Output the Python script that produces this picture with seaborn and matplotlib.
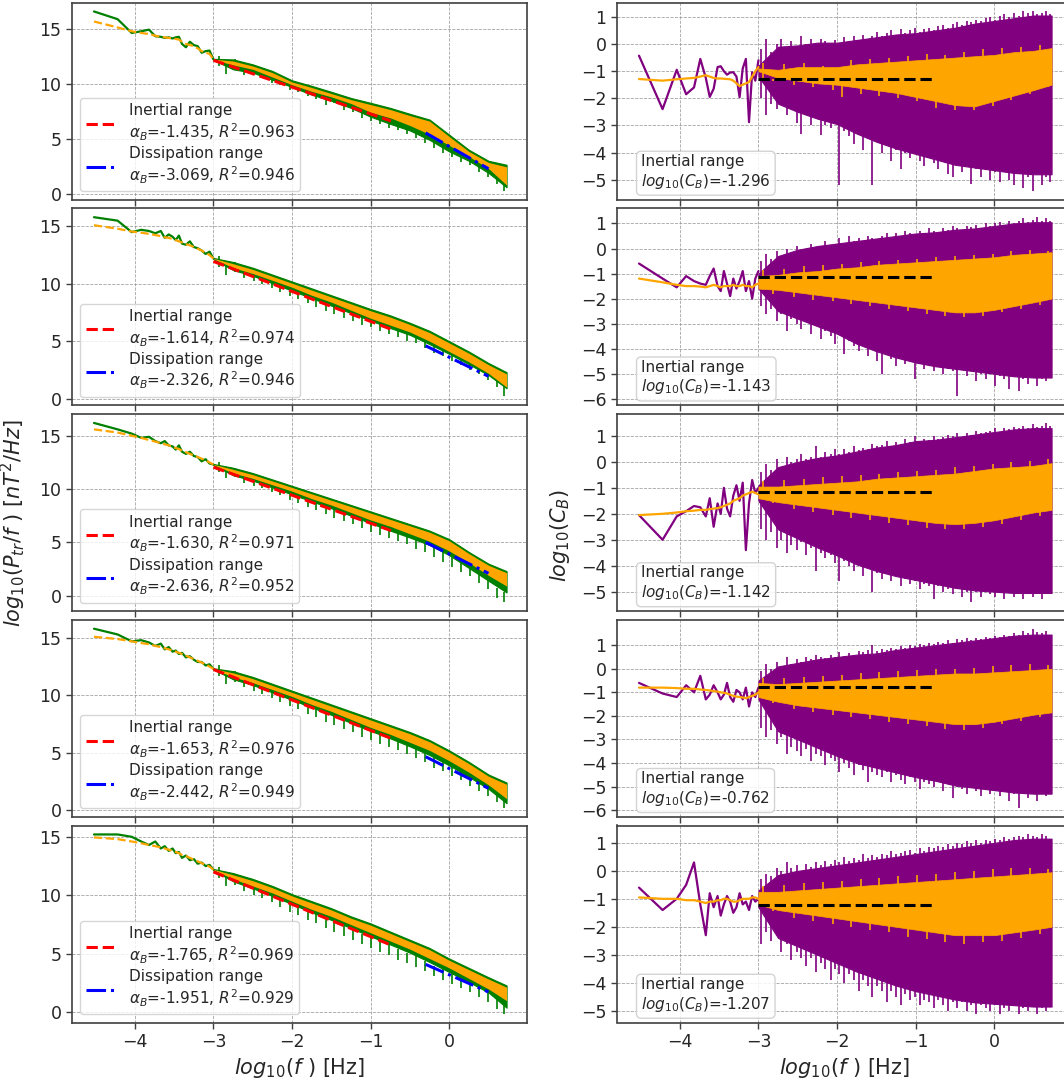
import numpy as np
import pandas as pd
import matplotlib
matplotlib.use("Agg")
import matplotlib.pyplot as plt
import seaborn as sns
from matplotlib.lines import Line2D

# ---------------------------------------------------------------- data
# log10(f) of the lowest discrete frequencies (left / right columns)
psd_lowf_x = [-4.52, -4.22, -4.04, -3.92, -3.82, -3.74, -3.67, -3.62, -3.57, -3.52, -3.48,
              -3.44, -3.40, -3.35, -3.30, -3.25, -3.20, -3.15, -3.10, -3.05, -3.00]
cb_lowf_x = [-4.52, -4.22, -4.04, -3.92, -3.82, -3.74, -3.67, -3.62, -3.57, -3.52, -3.48, -3.44,
             -3.40, -3.36, -3.32, -3.28, -3.24, -3.20, -3.16, -3.12, -3.08, -3.04, -3.00]
# log10(f) grid of the dense high-frequency envelopes
band_x = [-3.0, -2.75, -2.5, -2.25, -2.0, -1.75, -1.5, -1.25, -1.0, -0.75, -0.5, -0.25, 0.0, 0.25, 0.5, 0.73]
# log10(f) of the individual excursions of the dense spectra
dip_x = [-2.93, -2.84, -2.72, -2.61, -2.49, -2.38, -2.26, -2.15, -2.03, -1.92, -1.8, -1.69, -1.57,
         -1.46, -1.34, -1.23, -1.11, -1.0, -0.88, -0.77, -0.65, -0.54, -0.42, -0.31, -0.19, -0.08,
         0.04, 0.15, 0.27, 0.38, 0.5, 0.61, 0.7]
spike_x = [-2.97, -2.91, -2.84, -2.77, -2.71, -2.64, -2.58, -2.51, -2.46, -2.39, -2.33, -2.27,
           -2.2, -2.15, -2.08, -2.02, -1.97, -1.91, -1.85, -1.79, -1.72, -1.67, -1.6, -1.55,
           -1.49, -1.43, -1.37, -1.31, -1.25, -1.19, -1.13, -1.07, -1.01, -0.95, -0.89, -0.83,
           -0.77, -0.71, -0.65, -0.59, -0.53, -0.47, -0.41, -0.35, -0.29, -0.23, -0.17, -0.11,
           -0.05, 0.01, 0.07, 0.13, 0.19, 0.25, 0.31, 0.37, 0.43, 0.49, 0.55, 0.61, 0.66, 0.71]
orange_sp_x = [-2.94, -2.81, -2.68, -2.55, -2.42, -2.3, -2.18, -2.05, -1.94, -1.82, -1.7, -1.58,
               -1.46, -1.34, -1.22, -1.1, -0.98, -0.86, -0.74, -0.62, -0.5, -0.38, -0.26, -0.14,
               -0.02, 0.1, 0.22, 0.34, 0.46, 0.58, 0.69]

# fit ranges (log10 f)
inertial_range = [-3.0, -0.74]
dissipation_range = [-0.30, 0.50]

# spectral indices, goodness of fit and compensated levels per interval
alpha_in = [-1.435, -1.614, -1.630, -1.653, -1.765]
r2_in = [0.963, 0.974, 0.971, 0.976, 0.969]
alpha_diss = [-3.069, -2.326, -2.636, -2.442, -1.951]
r2_diss = [0.946, 0.946, 0.952, 0.949, 0.929]
log_cb = [-1.296, -1.143, -1.142, -0.762, -1.207]
# fit line values at the start of each range
fit_in_y0 = [12.12, 11.95, 12.05, 12.25, 12.0]
fit_diss_y0 = [5.53, 4.60, 5.00, 4.65, 4.10]

# ---- interval 1
psd1_low = [16.55, 15.85, 14.6, 14.75, 14.9, 14.3, 14.25, 14.15, 14.2, 14.1, 14.2,
            14.25, 13.6, 13.3, 13.8, 13.5, 13.4, 12.8, 12.95, 13.0, 12.2]
psd1_smooth = [15.64, 15.1, 14.75, 14.6, 14.5, 14.35, 14.25, 14.2, 14.15, 14.1, 14.05,
               14.0, 13.8, 13.6, 13.5, 13.4, 13.2, 12.95, 12.8, 12.7, 12.2]
psd1_top = [12.25, 12.2, 11.75, 11.15, 10.3, 9.8, 9.26, 8.7, 8.26, 7.8, 7.26, 6.74, 5.37, 4.0, 3.0, 2.64]
psd1_bot = [12.15, 11.3, 11.0, 10.35, 9.7, 9.0, 8.45, 7.8, 7.0, 6.35, 5.75, 4.9, 3.85, 3.0, 1.9, 0.6]
avg1_top = [12.22, 12.05, 11.6, 11.0, 10.15, 9.65, 9.1, 8.55, 8.1, 7.65, 7.1, 6.6, 5.2, 3.85, 2.85, 2.45]
avg1_bot = [12.18, 11.7, 11.3, 10.6, 9.9, 9.3, 8.8, 8.2, 7.4, 6.9, 6.2, 5.4, 4.4, 3.4, 2.3, 0.8]
psd1_dip = [11.6, 10.9, 11.3, 10.8, 10.8, 10.5, 10.1, 9.9, 9.4, 9.2, 8.9, 8.6, 8.1, 8.2, 7.6, 7.4,
            6.9, 6.6, 6.3, 6.0, 5.8, 5.4, 5.1, 4.6, 4.2, 3.7, 3.3, 2.9, 2.6, 2.0, 1.5, 0.9, 0.3]

cb1_low = [-0.43, -2.40, -0.95, -1.85, -1.60, -0.55, -1.25, -1.95, -1.65, -0.85, -0.82, -1.0,
           -1.13, -1.05, -1.04, -1.2, -1.96, -0.9, -0.55, -2.88, -1.04, -1.35, -0.6]
cbs1_low = [-1.29, -1.35, -1.3, -1.27, -1.25, -1.2, -1.15, -1.2, -1.25, -1.27, -1.27, -1.28,
            -1.29, -1.3, -1.35, -1.45, -1.55, -1.5, -1.45, -1.4, -1.2, -1.0, -0.85]
cb1_top = [-0.8, -0.1, -0.05, 0.05, 0.05, 0.15, 0.25, 0.35, 0.4, 0.5, 0.6, 0.75, 0.85, 0.95, 1.05, 1.05]
cb1_bot = [-1.2, -2.2, -2.5, -2.75, -2.95, -3.3, -3.6, -3.85, -4.05, -4.25, -4.45, -4.55, -4.65, -4.75, -4.8, -4.8]
cbs1_top = [-0.9, -0.95, -0.85, -0.85, -0.85, -0.75, -0.7, -0.65, -0.6, -0.55, -0.5, -0.45, -0.4, -0.3, -0.25, -0.15]
cbs1_bot = [-1.0, -1.25, -1.35, -1.45, -1.5, -1.6, -1.7, -1.8, -1.95, -2.1, -2.25, -2.3, -2.1, -1.9, -1.7, -1.5]
cb1_up = [-0.2, 0.2, -0.3, 0.0, 0.2, -0.2, 0.1, -0.1, 0.3, 0.0, 0.2, -0.05, 0.2, 0.1, 0.0, 0.15,
          0.05, 0.25, 0.1, 0.3, 0.15, 0.35, 0.2, 0.3, 0.45, 0.3, 0.4, 0.5, 0.35, 0.55, 0.4, 0.5,
          0.6, 0.45, 0.55, 0.6, 0.5, 0.65, 0.7, 0.6, 0.75, 0.8, 0.7, 0.85, 0.8, 0.9, 0.85, 0.95,
          1.0, 0.9, 1.05, 1.1, 1.0, 1.15, 1.05, 1.2, 1.15, 1.2, 1.1, 1.15, 1.2, 1.1]
cb1_dn = [-2.0, -2.6, -2.2, -2.4, -2.1, -2.6, -2.4, -2.9, -3.3, -2.6, -3.0, -2.7, -3.35, -3.0,
          -3.1, -2.9, -5.2, -3.2, -3.4, -3.7, -3.3, -3.9, -3.5, -5.2, -3.6, -4.0, -3.7, -4.3,
          -3.9, -4.6, -4.0, -4.2, -4.0, -4.3, -4.5, -4.2, -4.4, -4.6, -4.3, -4.8, -4.9, -4.4,
          -4.7, -4.5, -5.15, -4.6, -4.9, -4.6, -5.0, -4.7, -5.1, -4.7, -5.0, -5.2, -4.8, -5.3,
          -4.9, -5.4, -4.8, -5.2, -4.9, -5.1]
cbs1_sp = [-0.7, -1.35, -0.75, -1.5, -0.7, -1.6, -0.8, -1.7, -1.95, -0.6, -1.85, -0.55, -1.9,
           -0.5, -2.0, -0.45, -2.1, -0.35, -2.35, -0.4, -2.45, -0.3, -2.45, -0.2, -2.3, -0.15,
           -2.05, -0.1, -1.85, -0.05, -1.6]

# ---- interval 2
psd2_low = [15.8, 15.5, 14.5, 14.7, 14.6, 14.4, 14.6, 14.0, 14.3, 14.1, 13.8,
            14.2, 13.5, 13.4, 13.7, 13.2, 13.1, 12.9, 12.6, 12.8, 12.2]
psd2_smooth = [15.1, 14.8, 14.55, 14.45, 14.35, 14.25, 14.15, 14.05, 14.0, 13.9, 13.8,
               13.7, 13.6, 13.45, 13.35, 13.2, 13.05, 12.9, 12.7, 12.5, 12.2]
psd2_top = [12.25, 11.9, 11.4, 10.8, 10.2, 9.6, 9.0, 8.4, 7.8, 7.25, 6.6, 5.9, 5.0, 4.1, 3.1, 2.3]
psd2_bot = [12.15, 11.2, 10.7, 10.05, 9.4, 8.75, 8.1, 7.45, 6.8, 6.15, 5.55, 4.75, 3.9, 3.0, 2.05, 0.9]
avg2_top = [12.22, 11.75, 11.25, 10.65, 10.05, 9.45, 8.85, 8.25, 7.65, 7.1, 6.45, 5.75, 4.85, 3.95, 2.95, 2.15]
avg2_bot = [12.18, 11.4, 10.9, 10.3, 9.7, 9.0, 8.4, 7.7, 7.0, 6.4, 5.8, 5.0, 4.1, 3.2, 2.2, 1.0]
psd2_dip = [11.5, 10.8, 11.0, 10.5, 10.2, 10.0, 9.6, 9.3, 8.9, 8.7, 8.3, 8.0, 7.6, 7.4, 7.0, 6.8,
            6.4, 6.2, 5.9, 5.6, 5.4, 5.0, 4.8, 4.4, 4.0, 3.7, 3.3, 2.9, 2.5, 2.1, 1.6, 1.0, 0.2]

cb2_low = [-0.6, -1.2, -1.55, -1.1, -1.3, -1.4, -1.45, -1.1, -0.8, -1.5, -1.7, -0.9,
           -1.4, -1.9, -1.2, -1.6, -1.3, -0.9, -1.7, -1.3, -2.0, -1.2, -0.9]
cbs2_low = [-1.2, -1.35, -1.45, -1.5, -1.5, -1.52, -1.55, -1.5, -1.45, -1.5, -1.55, -1.5,
            -1.5, -1.5, -1.45, -1.5, -1.5, -1.45, -1.5, -1.5, -1.55, -1.45, -1.4]
cb2_top = [-1.0, -0.3, -0.05, 0.1, 0.2, 0.3, 0.4, 0.5, 0.6, 0.65, 0.75, 0.8, 0.9, 1.0, 1.05, 1.05]
cb2_bot = [-1.6, -2.5, -2.8, -3.1, -3.4, -3.8, -4.1, -4.35, -4.55, -4.7, -4.8, -4.9, -5.0, -5.1, -5.15, -5.15]
cbs2_top = [-1.1, -1.05, -0.95, -0.9, -0.8, -0.75, -0.65, -0.6, -0.55, -0.5, -0.45, -0.4, -0.35, -0.25, -0.2, -0.15]
cbs2_bot = [-1.6, -1.65, -1.75, -1.85, -1.95, -2.05, -2.15, -2.25, -2.35, -2.45, -2.55, -2.55, -2.45, -2.3, -2.15, -2.0]
cb2_up = [-0.5, -0.2, -0.4, -0.1, -0.3, 0.0, -0.2, 0.1, -0.1, 0.0, 0.2, 0.0, 0.1, 0.3, 0.1, 0.2,
          0.4, 0.2, 0.5, 0.3, 0.4, 0.3, 0.5, 0.4, 0.3, 0.5, 0.6, 0.4, 0.6, 0.5, 0.7, 0.6,
          0.5, 0.7, 0.6, 0.8, 0.7, 0.6, 0.8, 0.75, 0.9, 0.8, 0.7, 0.9, 0.85, 0.95, 0.8, 1.0,
          0.9, 1.0, 1.05, 0.95, 1.1, 1.0, 1.1, 1.2, 1.05, 1.15, 1.25, 1.1, 1.2, 1.1]
cb2_dn = [-2.3, -2.6, -2.4, -2.9, -2.6, -3.3, -2.8, -3.0, -3.2, -2.9, -3.4, -3.1, -3.6, -3.3,
          -3.5, -3.8, -3.4, -4.2, -3.7, -3.9, -4.1, -3.8, -4.3, -4.0, -4.5, -5.0, -4.2, -4.4,
          -4.7, -4.3, -4.6, -4.5, -5.2, -4.6, -4.8, -4.5, -4.9, -4.7, -5.0, -4.8, -4.9, -5.9,
          -4.8, -5.1, -4.9, -5.3, -5.0, -5.2, -5.0, -5.5, -5.1, -5.2, -5.6, -5.0, -5.7, -5.2,
          -5.4, -5.0, -5.5, -5.2, -5.3, -5.1]
cbs2_sp = [-0.85, -1.8, -0.8, -1.95, -0.7, -2.05, -0.65, -2.1, -0.6, -2.2, -0.55, -2.3, -0.5,
           -2.4, -0.45, -2.5, -0.4, -2.6, -0.35, -2.7, -0.3, -2.75, -0.25, -2.7, -0.2, -2.55,
           -0.1, -2.4, -0.05, -2.25, -0.1]

# ---- interval 3
psd3_low = [16.2, 15.6, 15.2, 14.8, 14.9, 14.5, 14.3, 14.5, 14.1, 14.0, 13.7,
            14.1, 13.5, 13.3, 13.5, 13.1, 13.0, 12.6, 12.8, 12.4, 12.3]
psd3_smooth = [15.6, 15.3, 15.0, 14.8, 14.6, 14.45, 14.3, 14.2, 14.1, 13.95, 13.85,
               13.75, 13.6, 13.45, 13.3, 13.15, 13.0, 12.85, 12.7, 12.5, 12.3]
psd3_top = [12.35, 12.0, 11.5, 10.9, 10.3, 9.7, 9.1, 8.5, 7.9, 7.3, 6.7, 6.1, 5.3, 4.1, 3.0, 2.3]
psd3_bot = [12.25, 11.3, 10.8, 10.15, 9.5, 8.85, 8.2, 7.5, 6.8, 6.1, 5.45, 4.75, 3.8, 2.6, 1.4, 0.3]
avg3_top = [12.32, 11.85, 11.35, 10.75, 10.15, 9.55, 8.95, 8.35, 7.75, 7.15, 6.55, 5.95, 5.15, 3.95, 2.85, 2.15]
avg3_bot = [12.28, 11.5, 11.0, 10.4, 9.8, 9.1, 8.5, 7.8, 7.1, 6.5, 5.8, 5.1, 4.2, 3.1, 1.9, 0.9]
psd3_dip = [11.6, 11.0, 11.1, 10.6, 10.3, 10.1, 9.7, 9.4, 9.0, 8.7, 8.3, 8.0, 7.7, 7.3, 7.0, 6.7,
            6.3, 6.0, 5.7, 5.4, 5.1, 4.8, 4.4, 4.1, 3.6, 3.2, 2.7, 2.2, 1.8, 1.2, 0.6, -0.2, -0.6]

cb3_low = [-2.05, -3.0, -2.1, -1.9, -1.7, -1.75, -2.1, -1.4, -2.5, -1.6, -2.0, -1.0,
           -1.8, -2.1, -1.3, -0.9, -1.5, -0.8, -3.4, -1.6, -0.7, -1.2, -1.0]
cbs3_low = [-2.05, -2.0, -1.95, -1.9, -1.88, -1.85, -1.85, -1.82, -1.8, -1.78, -1.75, -1.7,
            -1.65, -1.6, -1.5, -1.45, -1.4, -1.3, -1.25, -1.2, -1.15, -1.2, -1.25]
cb3_top = [-0.9, -0.2, 0.0, 0.15, 0.25, 0.4, 0.55, 0.65, 0.8, 0.85, 0.95, 1.05, 1.15, 1.25, 1.3, 1.3]
cb3_bot = [-1.5, -2.6, -2.95, -3.3, -3.6, -3.95, -4.2, -4.4, -4.55, -4.7, -4.85, -4.95, -5.0, -5.05, -5.05, -5.05]
cbs3_top = [-0.95, -0.95, -0.9, -0.85, -0.8, -0.75, -0.65, -0.6, -0.55, -0.5, -0.45, -0.35, -0.25, -0.2, -0.15, -0.05]
cbs3_bot = [-1.4, -1.55, -1.65, -1.75, -1.85, -1.95, -2.05, -2.15, -2.25, -2.35, -2.4, -2.35, -2.25, -2.1, -1.95, -1.85]
cb3_up = [-0.4, -0.1, -0.3, 0.1, -0.2, 0.2, 0.0, 0.1, 0.3, 0.1, 0.2, 0.6, 0.2, 0.4, 0.3, 0.5,
          0.3, 0.5, 0.4, 0.6, 0.45, 0.55, 0.5, 0.7, 0.6, 0.65, 0.8, 0.6, 0.75, 0.7, 0.9, 0.75,
          1.0, 0.8, 0.9, 0.85, 1.0, 0.9, 0.95, 1.05, 1.0, 1.1, 0.95, 1.1, 1.05, 1.2, 1.1, 1.15,
          1.2, 1.3, 1.15, 1.3, 1.25, 1.35, 1.3, 1.4, 1.3, 1.45, 1.35, 1.4, 1.5, 1.4]
cb3_dn = [-2.6, -3.0, -2.7, -3.3, -3.0, -3.5, -3.2, -3.4, -3.1, -3.6, -3.3, -4.2, -3.5, -3.7,
          -3.6, -3.9, -4.6, -3.8, -4.0, -4.2, -3.9, -4.4, -4.1, -5.0, -4.3, -4.5, -4.3, -4.6,
          -4.4, -4.8, -4.5, -4.7, -4.6, -4.9, -4.7, -4.8, -5.3, -4.8, -5.0, -4.9, -5.1, -4.9,
          -5.2, -5.0, -5.4, -5.0, -5.2, -4.9, -5.1, -5.2, -5.0, -5.3, -5.0, -5.2, -5.1, -5.3,
          -5.0, -5.2, -5.1, -5.3, -5.0, -5.1]
cbs3_sp = [-0.75, -1.6, -0.7, -1.8, -0.65, -1.95, -0.6, -2.05, -0.55, -2.15, -0.5, -2.25, -0.45,
           -2.35, -0.4, -2.45, -0.35, -2.55, -0.3, -2.6, -0.2, -2.6, -0.15, -2.5, -0.1, -2.4,
           0.0, -2.25, 0.05, -2.1, 0.1]

# ---- interval 4
psd4_low = [15.8, 15.3, 14.7, 14.8, 14.6, 14.3, 14.5, 14.0, 14.2, 13.8, 13.9,
            13.6, 13.7, 13.3, 13.4, 13.1, 12.9, 12.9, 12.6, 12.7, 12.3]
psd4_smooth = [15.1, 14.9, 14.7, 14.55, 14.45, 14.3, 14.2, 14.1, 14.0, 13.9, 13.8,
               13.7, 13.6, 13.45, 13.3, 13.15, 13.0, 12.85, 12.7, 12.5, 12.3]
psd4_top = [12.35, 12.1, 11.6, 11.0, 10.4, 9.8, 9.2, 8.6, 8.0, 7.4, 6.8, 6.1, 5.2, 4.2, 3.1, 2.4]
psd4_bot = [12.25, 11.4, 10.9, 10.25, 9.6, 8.95, 8.3, 7.6, 6.9, 6.25, 5.55, 4.8, 3.9, 2.9, 1.85, 0.6]
avg4_top = [12.32, 11.95, 11.45, 10.85, 10.25, 9.65, 9.05, 8.45, 7.85, 7.25, 6.65, 5.95, 5.05, 4.05, 2.95, 2.25]
avg4_bot = [12.28, 11.6, 11.1, 10.5, 9.9, 9.2, 8.6, 7.9, 7.2, 6.6, 5.9, 5.2, 4.3, 3.3, 2.2, 1.0]
psd4_dip = [11.7, 11.0, 11.2, 10.7, 10.4, 10.1, 9.8, 9.4, 9.1, 8.8, 8.4, 8.1, 7.7, 7.4, 7.1, 6.8,
            6.4, 6.1, 5.8, 5.5, 5.2, 4.9, 4.5, 4.2, 3.7, 3.4, 3.0, 2.6, 2.1, 1.7, 1.2, 0.7, 0.2]

cb4_low = [-0.6, -1.05, -1.2, -0.7, -1.0, -0.3, -1.3, -1.1, -0.7, -1.0, -1.3, -1.1,
           -0.6, -1.2, -1.4, -0.9, -1.0, -1.3, -0.8, -1.6, -1.0, -1.2, -0.8]
cbs4_low = [-0.8, -0.8, -0.82, -0.85, -0.85, -0.88, -0.9, -0.92, -0.95, -0.97, -1.0, -1.02,
            -1.05, -1.1, -1.15, -1.18, -1.2, -1.22, -1.25, -1.2, -1.15, -1.1, -1.0]
cb4_top = [-0.5, 0.1, 0.25, 0.4, 0.5, 0.6, 0.65, 0.8, 0.9, 1.0, 1.1, 1.2, 1.3, 1.4, 1.45, 1.45]
cb4_bot = [-1.3, -2.65, -3.0, -3.35, -3.7, -4.0, -4.2, -4.4, -4.6, -4.75, -4.95, -5.05, -5.15, -5.25, -5.3, -5.3]
cbs4_top = [-0.6, -0.65, -0.6, -0.55, -0.5, -0.45, -0.4, -0.35, -0.3, -0.25, -0.2, -0.2, -0.15, -0.1, -0.05, 0.0]
cbs4_bot = [-1.2, -1.4, -1.55, -1.65, -1.75, -1.85, -1.95, -2.05, -2.15, -2.25, -2.35, -2.35, -2.25, -2.1, -1.95, -1.85]
cb4_up = [-0.1, 0.2, 0.0, 0.3, 0.1, 0.5, 0.2, 0.4, 0.3, 0.5, 0.4, 0.6, 0.5, 0.45, 0.6, 0.5,
          0.7, 0.55, 0.65, 0.6, 0.75, 0.7, 0.8, 1.0, 0.75, 0.85, 0.8, 0.9, 0.85, 0.95, 0.9, 1.0,
          0.95, 1.05, 1.0, 1.1, 1.05, 1.15, 1.1, 1.2, 1.1, 1.25, 1.2, 1.3, 1.2, 1.3, 1.25, 1.35,
          1.3, 1.4, 1.35, 1.45, 1.4, 1.5, 1.45, 1.6, 1.5, 1.7, 1.55, 1.5, 1.6, 1.45]
cb4_dn = [-2.5, -2.9, -2.6, -3.2, -2.9, -3.6, -3.3, -3.5, -3.7, -3.4, -3.9, -3.6, -3.7, -4.1,
          -3.8, -3.9, -4.4, -4.0, -4.2, -4.5, -4.1, -4.3, -4.8, -4.4, -4.5, -4.6, -4.4, -4.8,
          -4.5, -4.7, -4.9, -4.6, -4.8, -5.1, -4.8, -4.9, -5.0, -4.8, -5.2, -4.9, -5.5, -5.0,
          -5.1, -5.3, -5.0, -5.2, -5.4, -5.1, -5.3, -5.2, -5.4, -5.2, -5.6, -5.3, -5.9, -5.3,
          -5.5, -5.2, -5.6, -5.3, -5.4, -5.2]
cbs4_sp = [-0.4, -1.45, -0.4, -1.7, -0.35, -1.85, -0.3, -1.95, -0.25, -2.05, -0.2, -2.15, -0.15,
           -2.25, -0.1, -2.35, -0.05, -2.45, 0.0, -2.55, 0.0, -2.6, 0.05, -2.5, 0.1, -2.35,
           0.15, -2.2, 0.2, -2.05, 0.15]

# ---- interval 5
psd5_low = [15.2, 15.2, 15.0, 14.6, 14.3, 14.6, 14.0, 14.2, 13.8, 14.0, 13.6,
            13.7, 13.2, 13.4, 13.0, 13.1, 12.7, 12.8, 12.5, 12.6, 12.2]
psd5_smooth = [14.95, 14.8, 14.6, 14.45, 14.3, 14.2, 14.1, 14.0, 13.9, 13.8, 13.7,
               13.6, 13.45, 13.35, 13.2, 13.05, 12.9, 12.75, 12.6, 12.45, 12.2]
psd5_top = [12.25, 11.9, 11.4, 10.8, 10.1, 9.5, 8.9, 8.2, 7.6, 6.9, 6.2, 5.5, 4.6, 3.8, 3.0, 2.3]
psd5_bot = [12.15, 11.2, 10.6, 9.95, 9.25, 8.55, 7.9, 7.2, 6.5, 5.8, 5.1, 4.3, 3.45, 2.6, 1.7, 0.4]
avg5_top = [12.22, 11.75, 11.25, 10.65, 9.95, 9.35, 8.75, 8.05, 7.45, 6.75, 6.05, 5.35, 4.45, 3.65, 2.85, 2.15]
avg5_bot = [12.18, 11.4, 10.8, 10.2, 9.5, 8.8, 8.2, 7.5, 6.8, 6.1, 5.4, 4.6, 3.8, 2.9, 2.0, 1.0]
psd5_dip = [11.5, 10.8, 10.9, 10.4, 10.0, 9.8, 9.4, 9.0, 8.6, 8.3, 7.9, 7.6, 7.2, 6.9, 6.5, 6.2,
            5.8, 5.5, 5.2, 4.9, 4.5, 4.2, 3.9, 3.5, 3.1, 2.8, 2.4, 2.1, 1.7, 1.3, 0.9, 0.3, -0.1]

cb5_low = [-0.6, -1.4, -1.0, -0.5, 0.3, -1.2, -2.3, -0.8, -1.3, -0.9, -1.6, -1.2,
           -0.9, -1.1, -1.5, -1.3, -0.8, -1.2, -1.1, -1.4, -0.9, -1.1, -1.0]
cbs5_low = [-0.95, -1.0, -1.0, -1.05, -1.05, -1.1, -1.15, -1.1, -1.1, -1.05, -1.05, -1.0,
            -1.0, -1.05, -1.1, -1.1, -1.05, -1.0, -1.0, -1.0, -0.95, -0.95, -1.0]
cb5_top = [-0.7, -0.15, 0.0, 0.1, 0.2, 0.3, 0.4, 0.5, 0.6, 0.7, 0.8, 0.9, 1.0, 1.1, 1.15, 1.15]
cb5_bot = [-1.3, -2.4, -2.7, -3.0, -3.3, -3.6, -3.85, -4.1, -4.3, -4.45, -4.6, -4.7, -4.75, -4.8, -4.85, -4.85]
cbs5_top = [-0.75, -0.75, -0.7, -0.65, -0.6, -0.55, -0.5, -0.45, -0.4, -0.35, -0.3, -0.25, -0.2, -0.15, -0.1, -0.05]
cbs5_bot = [-1.2, -1.4, -1.5, -1.6, -1.7, -1.8, -1.9, -2.0, -2.1, -2.2, -2.3, -2.3, -2.3, -2.2, -2.1, -2.0]
cb5_up = [-0.3, -0.1, -0.2, 0.1, 0.0, 0.3, 0.1, 0.2, 0.0, 0.25, 0.15, 0.3, 0.2, 0.35, 0.25, 0.4,
          0.3, 0.5, 0.35, 0.45, 0.4, 0.6, 0.45, 0.55, 0.5, 0.6, 0.55, 0.7, 0.6, 0.65, 0.7, 0.75,
          0.65, 0.8, 0.7, 0.85, 0.8, 0.9, 0.85, 0.95, 0.9, 1.0, 0.95, 1.05, 1.0, 1.1, 1.0, 1.1,
          1.05, 1.15, 1.1, 1.2, 1.15, 1.2, 1.25, 1.2, 1.3, 1.25, 1.2, 1.3, 1.25, 1.15]
cb5_dn = [-2.6, -2.2, -2.5, -2.3, -2.9, -2.6, -3.2, -2.9, -3.1, -3.4, -3.1, -3.6, -3.3, -3.5,
          -3.9, -3.5, -3.7, -4.0, -3.7, -3.9, -4.3, -3.9, -4.1, -4.5, -4.1, -4.3, -4.7, -4.3,
          -4.5, -4.8, -4.4, -4.6, -4.5, -4.8, -4.6, -4.7, -4.9, -4.6, -4.8, -5.0, -4.7, -4.9,
          -4.7, -5.0, -4.8, -5.1, -4.8, -4.9, -5.0, -4.8, -5.1, -4.9, -5.0, -4.8, -5.1, -4.9,
          -5.0, -4.8, -5.1, -4.9, -5.0, -4.8]
cbs5_sp = [-0.55, -1.45, -0.5, -1.7, -0.45, -1.8, -0.4, -1.9, -0.35, -2.0, -0.3, -2.1, -0.25,
           -2.2, -0.2, -2.35, -0.15, -2.45, -0.1, -2.55, -0.05, -2.6, 0.0, -2.55, 0.05, -2.5,
           0.1, -2.4, 0.1, -2.25, 0.05]

psd_low = [psd1_low, psd2_low, psd3_low, psd4_low, psd5_low]
psd_smooth = [psd1_smooth, psd2_smooth, psd3_smooth, psd4_smooth, psd5_smooth]
psd_top = [psd1_top, psd2_top, psd3_top, psd4_top, psd5_top]
psd_bot = [psd1_bot, psd2_bot, psd3_bot, psd4_bot, psd5_bot]
avg_top = [avg1_top, avg2_top, avg3_top, avg4_top, avg5_top]
avg_bot = [avg1_bot, avg2_bot, avg3_bot, avg4_bot, avg5_bot]
psd_dip = [psd1_dip, psd2_dip, psd3_dip, psd4_dip, psd5_dip]
cb_low = [cb1_low, cb2_low, cb3_low, cb4_low, cb5_low]
cbs_low = [cbs1_low, cbs2_low, cbs3_low, cbs4_low, cbs5_low]
cb_top = [cb1_top, cb2_top, cb3_top, cb4_top, cb5_top]
cb_bot = [cb1_bot, cb2_bot, cb3_bot, cb4_bot, cb5_bot]
cbs_top = [cbs1_top, cbs2_top, cbs3_top, cbs4_top, cbs5_top]
cbs_bot = [cbs1_bot, cbs2_bot, cbs3_bot, cbs4_bot, cbs5_bot]
cb_up = [cb1_up, cb2_up, cb3_up, cb4_up, cb5_up]
cb_dn = [cb1_dn, cb2_dn, cb3_dn, cb4_dn, cb5_dn]
cbs_sp = [cbs1_sp, cbs2_sp, cbs3_sp, cbs4_sp, cbs5_sp]

# ---------------------------------------------------------------- style
sns.set_theme(style="white")
plt.rcParams["font.family"] = ["DejaVu Sans"]
plt.rcParams["mathtext.fontset"] = "dejavusans"
plt.rcParams["axes.edgecolor"] = "0.25"
plt.rcParams["axes.linewidth"] = 1.2

W, H = 1064, 1084
fig = plt.figure(figsize=(W / 100, H / 100), dpi=100)
fig.patch.set_facecolor("white")

LEFT_X0, RIGHT_X0, AX_W = 72, 617, 455
ROW_TOP0, ROW_STEP, AX_H = 2.5, 205.75, 197
XLIM = (-4.80, 0.99)
TICK_FS, LEG_FS, LAB_FS = 12.5, 11, 15


def style_axes(ax, bottom_row):
    ax.set_xlim(*XLIM)
    ax.set_xticks([-4, -3, -2, -1, 0])
    ax.grid(True, color="0.55", ls="--", lw=0.6, alpha=0.8)
    ax.set_axisbelow(True)
    ax.tick_params(axis="both", direction="out", length=4.5, width=1.0,
                   labelsize=TICK_FS, color="0.25", bottom=True, left=True, pad=3)
    if not bottom_row:
        ax.tick_params(labelbottom=False)
    ax.set_xlabel("")
    ax.set_ylabel("")


axes_left, axes_right = [], []
for i in range(5):
    top = ROW_TOP0 + i * ROW_STEP
    y0 = 1 - (top + AX_H) / H
    axL = fig.add_axes([LEFT_X0 / W, y0, AX_W / W, AX_H / H])
    axR = fig.add_axes([RIGHT_X0 / W, y0, AX_W / W, AX_H / H])
    axes_left.append(axL)
    axes_right.append(axR)

    # ---- left: trace power spectral density
    low = pd.DataFrame({"logf": psd_lowf_x, "psd": psd_low[i], "smooth": psd_smooth[i]})
    sns.lineplot(data=low, x="logf", y="psd", ax=axL, color="green", lw=1.6, zorder=2)
    axL.fill_between(band_x, psd_bot[i], psd_top[i], color="green", lw=0.8, zorder=2)
    axL.vlines(dip_x, psd_dip[i], np.array(psd_dip[i]) + 0.9, color="green", lw=1.2, zorder=2)
    axL.fill_between(band_x, avg_bot[i], avg_top[i], color="orange", lw=0, zorder=3)
    sns.lineplot(data=low, x="logf", y="smooth", ax=axL, color="orange", lw=1.6,
                 linestyle="--", zorder=3)

    xi = np.array(inertial_range)
    yi = fit_in_y0[i] + (alpha_in[i] - 1) * (xi - xi[0])
    sns.lineplot(x=xi, y=yi, ax=axL, color="red", lw=2.2, linestyle="--", zorder=5)
    xd = np.array(dissipation_range)
    yd = fit_diss_y0[i] + (alpha_diss[i] - 1) * (xd - xd[0])
    sns.lineplot(x=xd, y=yd, ax=axL, color="blue", lw=2.2, linestyle="-.", zorder=5)

    handles = [Line2D([], [], color="red", lw=2.2, ls="--"),
               Line2D([], [], color="blue", lw=2.2, ls="-.")]
    labels = ["Inertial range\n" + r"$\alpha_B$=%.3f, $R^2$=%.3f" % (alpha_in[i], r2_in[i]),
              "Dissipation range\n" + r"$\alpha_B$=%.3f, $R^2$=%.3f" % (alpha_diss[i], r2_diss[i])]
    axL.legend(handles, labels, loc="lower left", fontsize=LEG_FS, framealpha=0.8,
               borderaxespad=0.55, handlelength=2.0, labelspacing=0.2, borderpad=0.35)
    axL.set_yticks([0, 5, 10, 15])
    style_axes(axL, i == 4)

    # ---- right: compensated spectrum
    lowc = pd.DataFrame({"logf": cb_lowf_x, "cb": cb_low[i], "smooth": cbs_low[i]})
    sns.lineplot(data=lowc, x="logf", y="cb", ax=axR, color="purple", lw=1.6, zorder=2)
    axR.fill_between(band_x, cb_bot[i], cb_top[i], color="purple", lw=0.8, zorder=2)
    axR.vlines(spike_x, cb_dn[i], log_cb[i], color="purple", lw=1.2, zorder=2)
    axR.vlines(spike_x, log_cb[i], cb_up[i], color="purple", lw=1.2, zorder=2)
    axR.fill_between(band_x, cbs_bot[i], cbs_top[i], color="orange", lw=0.5, zorder=3)
    axR.vlines(orange_sp_x, log_cb[i], cbs_sp[i], color="orange", lw=1.2, zorder=3)
    sns.lineplot(data=lowc, x="logf", y="smooth", ax=axR, color="orange", lw=1.6, zorder=3)
    sns.lineplot(x=inertial_range, y=[log_cb[i], log_cb[i]], ax=axR, color="black",
                 lw=2.2, linestyle="--", zorder=5)
    axR.text(0.053, 0.045, "Inertial range\n" + r"$log_{10}(C_B)$=%.3f" % log_cb[i],
             transform=axR.transAxes, fontsize=LEG_FS, va="bottom", ha="left", zorder=6,
             bbox=dict(boxstyle="round,pad=0.3", fc="white", ec="0.8", alpha=0.85))
    axR.set_yticks(np.arange(-6, 2))
    style_axes(axR, i == 4)

for ax in axes_left + axes_right:
    ax.autoscale(enable=True, axis="y")
    ax.set_xlim(*XLIM)

axes_left[4].set_xlabel(r"$log_{10}(f\ )$ [Hz]", fontsize=LAB_FS)
axes_right[4].set_xlabel(r"$log_{10}(f\ )$ [Hz]", fontsize=LAB_FS)
axes_left[2].set_ylabel(r"$log_{10}(P_{tr}/f\ )\ [nT^2/Hz]$", fontsize=LAB_FS)
axes_left[2].yaxis.set_label_coords(-0.097, 0.445)
axes_right[2].set_ylabel(r"$log_{10}(C_B)$", fontsize=LAB_FS)
axes_right[2].yaxis.set_label_coords(-0.099, 0.385)

fig.savefig("out.png", dpi=100, facecolor="white")
